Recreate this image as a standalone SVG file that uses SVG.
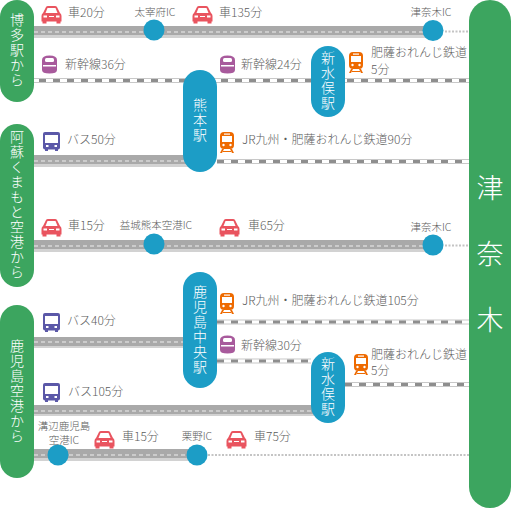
<svg xmlns="http://www.w3.org/2000/svg" width="511" height="508" viewBox="0 0 511 508">
<style>
text{font-family:"Noto Sans CJK JP","Liberation Sans",sans-serif;fill:#5c5c5c;font-size:12px;font-weight:300}
.ic{font-size:10.5px;text-anchor:middle}
.v{fill:#fff;font-size:14px;letter-spacing:1px;writing-mode:vertical-rl;text-orientation:upright;text-anchor:start}
.big{fill:#fff;font-size:27px;text-anchor:middle}
.g{fill:#3ca55f}.b{fill:#1c9dc6}
.road{fill:#a9a9a9}.roadb{fill:#d2d2d2}
.cd{stroke:#eee;stroke-width:1;stroke-dasharray:4 3;fill:none}
.dot{stroke:#c4c4c4;stroke-width:2;stroke-dasharray:2 1.5;fill:none}
.r1{stroke:#c8c8c8;stroke-width:5;fill:none}
.r2{stroke:#fff;stroke-width:3;fill:none}
.r3{stroke:#8e8e8e;stroke-width:3;stroke-dasharray:7 7;fill:none}
</style>
<defs>
<g id="car"><path d="M3 8 6 2Q6.500 1 8 1H15Q16.500 1 17 2L20 8Q21.500 9 21.500 11V16.500H1.500V11Q1.500 9 3 8Z" fill="#e9545f"/><path d="M5.500 8 7.500 3H15.500L17.500 8Z" fill="#fff"/><rect x="2.500" y="16" width="4" height="2.500" fill="#e9545f"/><rect x="16.500" y="16" width="4" height="2.500" fill="#e9545f"/><rect x="3.500" y="10.500" width="3.500" height="2" fill="#fff"/><rect x="16" y="10.500" width="3.500" height="2" fill="#fff"/><rect x="9" y="11" width="5" height="1" fill="#fff"/></g>
<g id="shin"><path d="M1 5Q1 .5 8.500 .5T16 5V15Q16 18.500 8.500 18.500T1 15Z" fill="#a85a9c"/><rect x="4" y="3" width="9" height="4" rx="1.500" fill="#fff"/><rect x="2" y="10" width="13" height="1.500" fill="#fff"/></g>
<g id="bus"><rect x="1" y="1" width="17" height="17.500" rx="2" fill="#5b58a8"/><rect x="3" y="4" width="13" height="8" fill="#fff"/><rect x="4" y="14" width="2.500" height="2" fill="#fff"/><rect x="12.500" y="14" width="2.500" height="2" fill="#fff"/><rect x="3" y="18" width="3" height="2" fill="#5b58a8"/><rect x="13" y="18" width="3" height="2" fill="#5b58a8"/></g>
<g id="tr"><rect x="1" y="0" width="14" height="17" rx="4" fill="#ee6a00"/><rect x="3" y="4" width="10" height="6" fill="#fff"/><rect x="5" y="1.500" width="6" height="1.200" fill="#fff"/><circle cx="4.500" cy="13" r="1.200" fill="#fff"/><circle cx="11.500" cy="13" r="1.200" fill="#fff"/><path d="M3 17 1 21H3L5 17ZM13 17 15 21H13L11 17ZM4 19H12V20H4Z" fill="#ee6a00"/></g>
</defs>
<g id="connectors">
<g id="hakata-road"><rect class="road" x="34" y="26" width="400" height="9"/><rect class="roadb" x="34" y="35" width="400" height="3"/><path class="cd" d="M34 32H434"/><path class="dot" d="M445 31.500H469"/></g>
<g id="hakata-rail"><path class="r1" d="M34 80.500H469"/><path class="r2" d="M34 80.500H469"/><path class="r3" d="M39 80.500H469"/></g>
<g id="aso-road"><rect class="road" x="34" y="155" width="160" height="9"/><rect class="roadb" x="34" y="164" width="160" height="3"/><path class="cd" d="M34 161H190"/></g>
<g id="aso-rail"><path class="r1" d="M217 161.500H469"/><path class="r2" d="M217 161.500H469"/><path class="r3" d="M217 161.500H469"/></g>
<g id="aso-road2"><rect class="road" x="34" y="240" width="400" height="9"/><rect class="roadb" x="34" y="249" width="400" height="3"/><path class="cd" d="M34 246H434"/><path class="dot" d="M445 245.500H469"/></g>
<g id="kago-bus"><rect class="road" x="34" y="337" width="160" height="9"/><rect class="roadb" x="34" y="346" width="160" height="2"/><path class="cd" d="M34 342H190"/></g>
<g id="kago-rail1"><path class="r1" d="M217 322H469"/><path class="r2" d="M217 322H469"/><path class="r3" d="M217 322H469"/></g>
<g id="kago-rail2"><path class="r1" d="M217 361H311"/><path class="r2" d="M217 361H311"/><path class="r3" d="M217 361H311"/></g>
<g id="kago-rail3"><path class="r1" d="M345 384.500H469"/><path class="r2" d="M345 384.500H469"/><path class="r3" d="M345 384.500H469"/></g>
<g id="kago-road"><rect class="road" x="34" y="405" width="280" height="9"/><rect class="roadb" x="34" y="414" width="280" height="2"/><path class="cd" d="M34 411H314"/></g>
<g id="kago-road2"><rect class="road" x="34" y="449" width="163" height="9"/><rect class="roadb" x="34" y="458" width="163" height="3"/><path class="cd" d="M34 455H197"/><path class="dot" d="M208 455H469"/></g>
</g>
<g id="node-hakata"><rect class="g" x="0" y="0" width="34" height="102" rx="17"/><text class="v" x="17" y="13">博多駅から</text></g>
<g id="node-aso"><rect class="g" x="0" y="124" width="34" height="163" rx="17"/><text class="v" x="17" y="130">阿蘇くまもと空港から</text></g>
<g id="node-kagoshima"><rect class="g" x="0" y="305" width="34" height="173" rx="17"/><text class="v" x="17" y="339">鹿児島空港から</text></g>
<g id="node-tsunagi"><rect class="g" x="469" y="0" width="42" height="508" rx="21"/><text class="big" x="490" y="198">津</text><text class="big" x="490" y="264">奈</text><text class="big" x="490" y="330">木</text></g>
<g id="node-kumamoto"><rect class="b" x="183" y="70" width="34" height="102" rx="17"/><text class="v" x="200" y="98">熊本駅</text></g>
<g id="node-minamata1"><rect class="b" x="311" y="46" width="34" height="71" rx="17"/><text class="v" x="328" y="51">新水俣駅</text></g>
<g id="node-chuo"><rect class="b" x="183" y="272" width="34" height="116" rx="17"/><text class="v" x="200" y="285">鹿児島中央駅</text></g>
<g id="node-minamata2"><rect class="b" x="311" y="352" width="34" height="71" rx="17"/><text class="v" x="328" y="357">新水俣駅</text></g>
<g id="ic-dazaifu"><circle class="b" cx="154" cy="30" r="10.500"/><text class="ic" x="155" y="16">太宰府IC</text></g>
<g id="ic-tsunagi1"><circle class="b" cx="433" cy="30.500" r="10.500"/><text class="ic" x="431" y="16">津奈木IC</text></g>
<g id="ic-mashiki"><circle class="b" cx="154" cy="244" r="10.500"/><text class="ic" x="156" y="229">益城熊本空港IC</text></g>
<g id="ic-tsunagi2"><circle class="b" cx="433" cy="245" r="10.500"/><text class="ic" x="431" y="231">津奈木IC</text></g>
<g id="ic-mizobe"><circle class="b" cx="58" cy="455" r="10.500"/><text class="ic" x="64" y="430">溝辺鹿児島</text><text class="ic" x="64" y="444">空港IC</text></g>
<g id="ic-kurino"><circle class="b" cx="197" cy="455" r="10.500"/><text class="ic" x="197" y="440">栗野IC</text></g>
<g id="labels">
<use href="#car" x="40" y="5"/><text x="68" y="17">車20分</text>
<use href="#car" x="191" y="5"/><text x="219" y="17">車135分</text>
<use href="#shin" x="41" y="55"/><text x="65" y="69">新幹線36分</text>
<use href="#shin" x="219" y="55"/><text x="241" y="69">新幹線24分</text>
<use href="#tr" x="348" y="52"/><text x="371" y="57">肥薩おれんじ鉄道</text><text x="371" y="74">5分</text>
<use href="#bus" x="42" y="131"/><text x="67" y="144">バス50分</text>
<use href="#tr" x="219" y="132"/><text x="242" y="144">JR九州・肥薩おれんじ鉄道90分</text>
<use href="#car" x="40" y="218"/><text x="68" y="230">車15分</text>
<use href="#car" x="218" y="218"/><text x="248" y="230">車65分</text>
<use href="#bus" x="42" y="312"/><text x="67" y="325">バス40分</text>
<use href="#tr" x="219" y="293"/><text x="242" y="305">JR九州・肥薩おれんじ鉄道105分</text>
<use href="#shin" x="219" y="335"/><text x="241" y="350">新幹線30分</text>
<use href="#tr" x="353" y="354"/><text x="371" y="359">肥薩おれんじ鉄道</text><text x="371" y="375">5分</text>
<use href="#bus" x="42" y="382"/><text x="68" y="396">バス105分</text>
<use href="#car" x="93" y="430"/><text x="122" y="441">車15分</text>
<use href="#car" x="225" y="430"/><text x="254" y="441">車75分</text>
</g>
</svg>
